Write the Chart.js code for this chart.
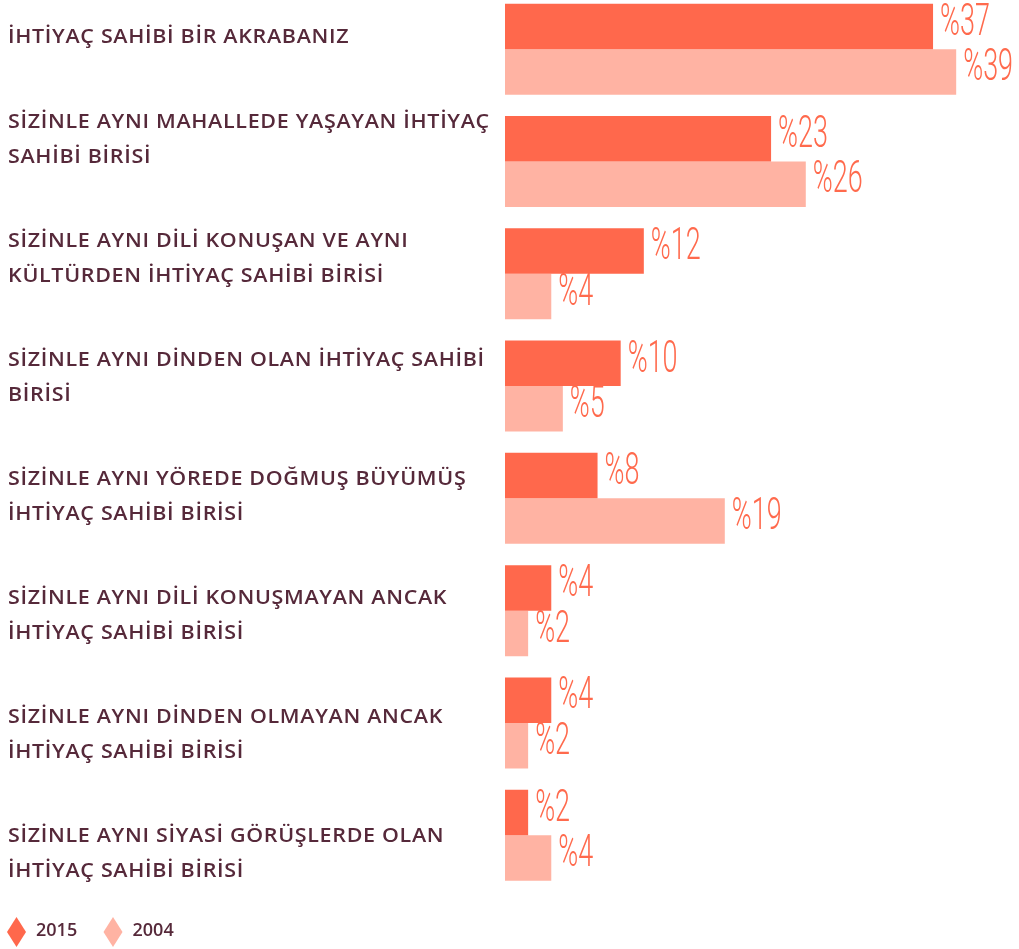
<!DOCTYPE html>
<html>
<head>
<meta charset="utf-8">
<script src="https://cdn.jsdelivr.net/npm/chart.js@4.4.0/dist/chart.umd.min.js"></script>
<style>
  html, body { margin: 0; padding: 0; background: #fff; overflow: hidden; }
  #wrap { position: absolute; left: 0; top: -7px; width: 1019px; height: 956px; }
</style>
</head>
<body>
<div id="wrap"><canvas id="chart"></canvas></div>
<script>
// kategoriler (satir satir)
const categories = [
    ["İHTİYAÇ SAHİBİ BİR AKRABANIZ"],
    ["SİZİNLE AYNI MAHALLEDE YAŞAYAN İHTİYAÇ", "SAHİBİ BİRİSİ"],
    ["SİZİNLE AYNI DİLİ KONUŞAN VE AYNI", "KÜLTÜRDEN İHTİYAÇ SAHİBİ BİRİSİ"],
    ["SİZİNLE AYNI DİNDEN OLAN İHTİYAÇ SAHİBİ", "BİRİSİ"],
    ["SİZİNLE AYNI YÖREDE DOĞMUŞ BÜYÜMÜŞ", "İHTİYAÇ SAHİBİ BİRİSİ"],
    ["SİZİNLE AYNI DİLİ KONUŞMAYAN ANCAK", "İHTİYAÇ SAHİBİ BİRİSİ"],
    ["SİZİNLE AYNI DİNDEN OLMAYAN ANCAK", "İHTİYAÇ SAHİBİ BİRİSİ"],
    ["SİZİNLE AYNI SİYASİ GÖRÜŞLERDE OLAN", "İHTİYAÇ SAHİBİ BİRİSİ"]
];
const seriesNames = ["2015", "2004"];
const values2015 = [37, 23, 12, 10, 8, 4, 4, 2];
const values2004 = [39, 26, 4, 5, 19, 2, 2, 4];

const labelColor = "#56293a";
const valueColor = "#ff6a4d";

// sol taraftaki kategori yazilari
const categoryText = {
    id: "categoryText",
    afterDraw(chart) {
        const ctx = chart.ctx;
        ctx.save();
        ctx.font = "600 19px 'Open Sans'";
        ctx.letterSpacing = "0.6px";
        ctx.fillStyle = labelColor;
        ctx.textAlign = "left";
        ctx.textBaseline = "middle";
        categories.forEach((lines, i) => {
            const lastY = 45 + i * 119.1;
            lines.forEach((line, j) => {
                ctx.save();
                ctx.translate(8, lastY - (lines.length - 1 - j) * 35);
                ctx.scale(1.13, 1);
                ctx.fillText(line, 0, 0);
                ctx.restore();
            });
        });
        ctx.restore();
    }
};

// bar sonundaki %deger yazilari
const valueText = {
    id: "valueText",
    afterDatasetsDraw(chart) {
        const ctx = chart.ctx;
        ctx.save();
        ctx.font = "300 45px Roboto";
        ctx.fillStyle = valueColor;
        ctx.textBaseline = "middle";
        chart.data.datasets.forEach((ds, d) => {
            chart.getDatasetMeta(d).data.forEach((bar, i) => {
                ctx.save();
                ctx.translate(bar.x + 7, bar.y - 3);
                ctx.scale(0.6, 1);
                ctx.fillText("%" + ds.data[i], 0, 0);
                ctx.restore();
            });
        });
        ctx.restore();
    }
};

// alttaki elmas legend
const diamondLegend = {
    id: "diamondLegend",
    afterDraw(chart) {
        const ctx = chart.ctx;
        const starts = [16.5, 113];
        ctx.save();
        ctx.font = "600 18px 'Open Sans'";
        ctx.textBaseline = "middle";
        chart.data.datasets.forEach((ds, d) => {
            const cx = starts[d];
            const cy = 939;
            ctx.fillStyle = ds.backgroundColor;
            ctx.beginPath();
            ctx.moveTo(cx, cy - 15);
            ctx.lineTo(cx + 9.5, cy);
            ctx.lineTo(cx, cy + 15);
            ctx.lineTo(cx - 9.5, cy);
            ctx.closePath();
            ctx.fill();
            ctx.fillStyle = labelColor;
            ctx.fillText(ds.label, cx + 19.5, cy - 1);
        });
        ctx.restore();
    }
};

new Chart(document.getElementById("chart"), {
    type: "bar",
    data: {
        labels: categories,
        datasets: [
            {
                label: seriesNames[0],
                data: values2015,
                backgroundColor: "#ff684c",
                barPercentage: 1,
                categoryPercentage: 0.81,
            },
            {
                label: seriesNames[1],
                data: values2004,
                backgroundColor: "#ffb3a3",
                barPercentage: 1,
                categoryPercentage: 0.81,
            },
        ],
    },
    options: {
        indexAxis: "y",
        responsive: true,
        maintainAspectRatio: false,
        animation: false,
        layout: { padding: { left: 505, right: 0, top: 0, bottom: 57.6 } },
        scales: {
            x: { display: false, min: 0, max: 44.43 },
            y: { display: false },
        },
        plugins: {
            legend: { display: false },
            tooltip: { enabled: false },
        },
    },
    plugins: [categoryText, valueText, diamondLegend],
});
</script>
</body>
</html>
